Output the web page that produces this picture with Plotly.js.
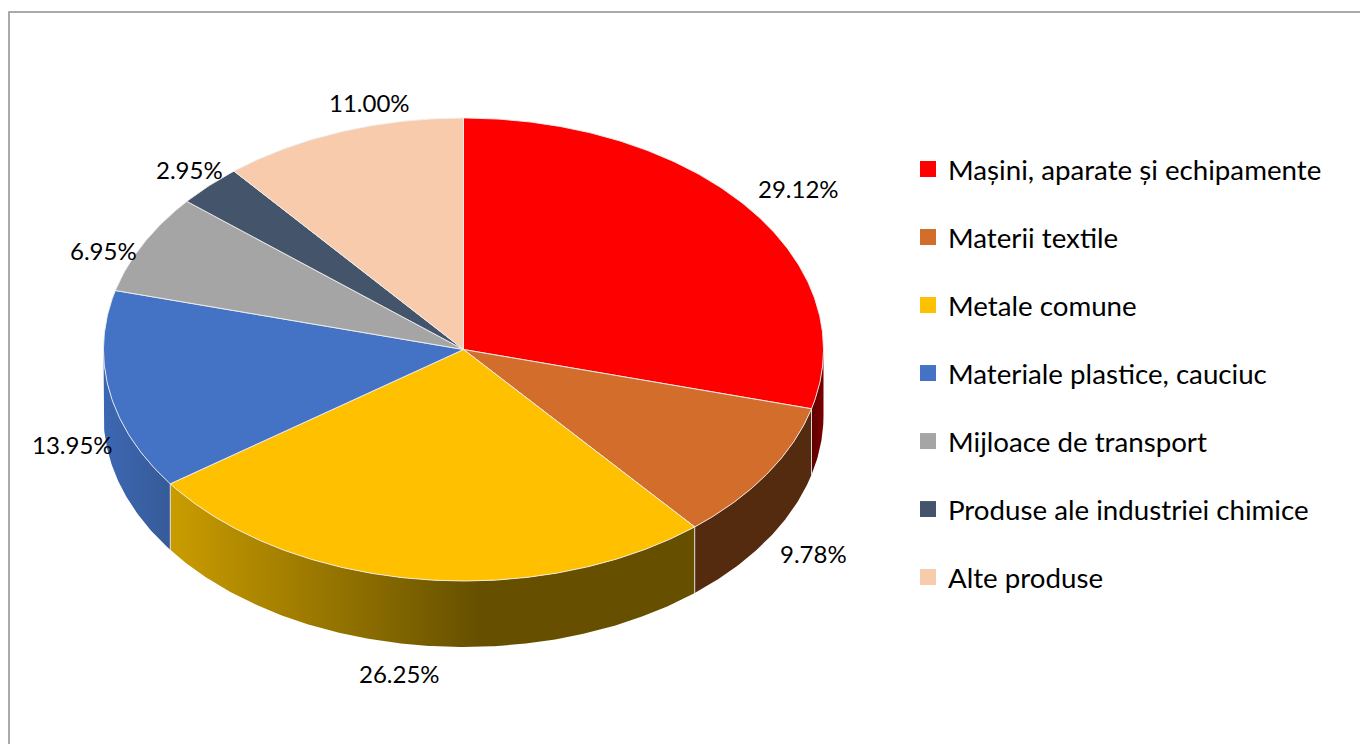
<!DOCTYPE html>
<html>
<head>
<meta charset="utf-8">
<script src="https://cdn.plot.ly/plotly-3.0.1.min.js"></script>
<style>html,body{margin:0;padding:0;background:#fff}#chart{width:1360px;height:744px}
#chart text{font-variant-ligatures:none}</style>
</head>
<body>
<div id="chart"></div>
<script>
const categories = ["Mașini, aparate și echipamente","Materii textile","Metale comune","Materiale plastice, cauciuc","Mijloace de transport","Produse ale industriei chimice","Alte produse"];
const shares = [29.12, 9.78, 26.25, 13.95, 6.95, 2.95, 11.00];
const topColors = ["#FF0000","#D26D2C","#FFC000","#4472C4","#A5A5A5","#44546A","#F8CBAD"];
const wallStops = [
  [[0,"#5e0000"],[1,"#7a0000"]],
  [[0,"#552b10"],[1,"#552b10"]],
  [[0,"#c99c00"],[0.59,"#665000"],[1,"#665000"]],
  [[0,"#3c67b2"],[1,"#375b99"]],
  null, null, null
];
// label anchors (image pixels) and geometry of the tilted disc
const labelPx = [[798,188],[813,553],[399,673],[72,444],[103,250],[189,169],[369,102]];
const CX = 463.5, CY = 349.5, RX = 360, RY = 231.5, DEPTH = 66, W = 1360, H = 744;
const toX = p => (p - CX) / RX, toY = p => (CY - p) / RY;
const depthY = DEPTH / RY;
const pt = (deg, drop) => [Math.sin(deg*Math.PI/180), Math.cos(deg*Math.PI/180) - (drop||0)];
function arc(a, b){ const o=[]; const n=Math.max(2,Math.ceil(Math.abs(b-a)*2)); for(let i=0;i<=n;i++) o.push(a+(b-a)*i/n); return o; }

const traces = [];
let start = 0;
const spans = shares.map(v => { const s=[start, start + v*3.6]; start = s[1]; return s; });

// side walls (front half only: 90 to 270 degrees)
spans.forEach(([a,b],i) => {
  const lo = Math.max(a,90), hi = Math.min(b,270);
  if (hi <= lo || !wallStops[i]) return;
  const top = arc(lo,hi).map(d=>pt(d,0)), bot = arc(hi,lo).map(d=>pt(d,depthY));
  const poly = top.concat(bot);
  traces.push({type:"scatter",mode:"lines",x:poly.map(p=>p[0]),y:poly.map(p=>p[1]),fill:"toself",
    line:{width:0,color:"rgba(0,0,0,0)"},
    fillgradient:{type:"horizontal",colorscale:wallStops[i]},
    showlegend:false,hoverinfo:"skip"});
});
// light seams between walls
spans.forEach(([a]) => {
  if (a>90 && a<270){
    const p=pt(a,0), q=pt(a,depthY);
    traces.push({type:"scatter",mode:"lines",x:[p[0],q[0]],y:[p[1],q[1]],line:{width:1,color:"rgba(235,235,235,0.85)"},showlegend:false,hoverinfo:"skip"});
  }
});
// top faces
spans.forEach(([a,b],i) => {
  const poly=[[0,0]].concat(arc(a,b).map(d=>pt(d,0))).concat([[0,0]]);
  traces.push({type:"scatter",mode:"lines",x:poly.map(p=>p[0]),y:poly.map(p=>p[1]),fill:"toself",fillcolor:topColors[i],
    line:{width:1,color:"rgba(240,240,240,0.9)"},name:categories[i],showlegend:false,
    text:shares[i].toFixed(2)+"%",hoverinfo:"name+text"});
});
// legend entries
categories.forEach((c,i)=>{
  traces.push({type:"scatter",mode:"markers",x:[null],y:[null],name:c,legendgroup:"g"+i,
    marker:{symbol:"square",size:16,color:topColors[i]},showlegend:true});
});

const annotations = shares.map((v,i)=>({
  x:toX(labelPx[i][0]),y:toY(labelPx[i][1]),xref:"x",yref:"y",text:v.toFixed(2)+"%",showarrow:false,
  xanchor:"center",yanchor:"middle",font:{family:"Lato, sans-serif",size:24,color:"#000"}
}));

const layout = {
  width:W,height:H,margin:{l:0,r:0,t:0,b:0},paper_bgcolor:"#fff",plot_bgcolor:"#fff",
  xaxis:{range:[toX(0),toX(W)],visible:false,fixedrange:true},
  yaxis:{range:[toY(H),toY(0)],visible:false,fixedrange:true},
  showlegend:true,
  legend:{x:908/W,y:1-144.5/H,xanchor:"left",yanchor:"top",tracegroupgap:29,
    font:{family:"Lato, sans-serif",size:27.7,color:"#000"},bgcolor:"rgba(0,0,0,0)"},
  annotations,
  shapes:[{type:"path",xref:"paper",yref:"paper",
    path:`M ${9/W} 0 L ${9/W} ${1-12/H} L 1 ${1-12/H}`,line:{color:"#8f8f8f",width:1.5}}]
};
Plotly.newPlot("chart",traces,layout,{displayModeBar:false,staticPlot:false});
</script>
</body>
</html>
